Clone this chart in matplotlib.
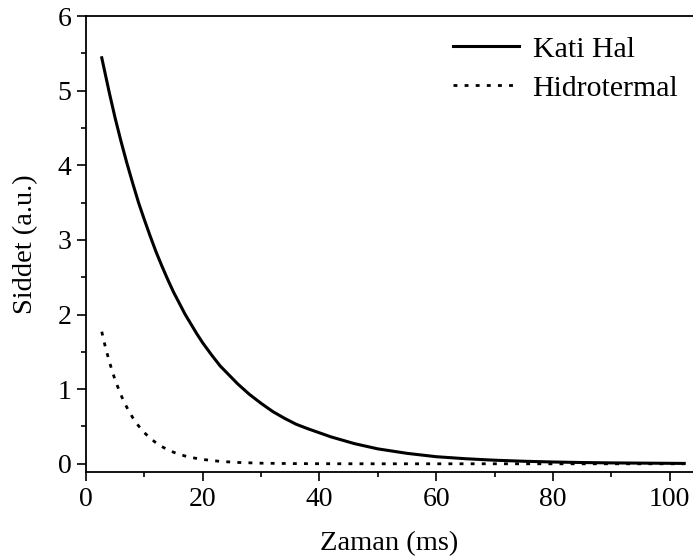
import matplotlib
import matplotlib.pyplot as plt
from matplotlib.ticker import MultipleLocator

matplotlib.use('Agg')

# decay curves, time in ms, intensity in a.u.
time_kati = [2.7, 4, 5, 6, 7, 8, 9, 10, 11, 12, 13, 14, 15, 16, 17, 18, 19,
             20, 21.5, 23, 24.5, 26, 28, 30, 32, 34, 36, 38, 42, 46, 50, 55,
             60, 65, 70, 75, 80, 85, 90, 95, 102.5]
signal_kati = [5.44, 4.97, 4.63, 4.32, 4.03, 3.76, 3.50, 3.27, 3.05, 2.84,
               2.65, 2.47, 2.30, 2.15, 2.00, 1.87, 1.74, 1.62, 1.46, 1.31,
               1.19, 1.07, 0.93, 0.81, 0.70, 0.61, 0.53, 0.47, 0.36, 0.27,
               0.20, 0.14, 0.095, 0.068, 0.048, 0.034, 0.024, 0.017, 0.012,
               0.009, 0.005]

time_hidro = [2.7, 3.3, 4, 4.5, 5, 5.5, 6, 6.5, 7, 8, 9, 10, 11, 12, 13, 14,
              15, 16, 17, 18, 20, 23, 26, 30, 35, 40, 50, 60, 70, 80, 90,
              102.5]
signal_hidro = [1.77, 1.57, 1.37, 1.24, 1.12, 1.02, 0.92, 0.834, 0.756,
                0.619, 0.508, 0.417, 0.342, 0.281, 0.230, 0.189, 0.155,
                0.127, 0.104, 0.085, 0.058, 0.032, 0.018, 0.008, 0.003,
                0.001, 0.0, 0.0, 0.0, 0.0, 0.0, 0.0]

labels = ['Kati Hal', 'Hidrotermal']

plt.rcParams['font.family'] = ['Liberation Serif', 'DejaVu Serif']
plt.rcParams['font.size'] = 20

fig = plt.figure(figsize=(6.93, 5.59), dpi=100)
ax = fig.add_axes([86 / 693, 1 - 472 / 559, 1 - 86 / 693, (472 - 16) / 559])

ax.plot(time_kati, signal_kati, c='k', lw=2.2, label=labels[0])
ax.plot(time_hidro, signal_hidro, c='k', lw=2.0, ls=(0, (1.4, 2.6)), label=labels[1])

ax.set_xlim(0, 104)
ax.set_ylim(-0.11, 6)
ax.xaxis.set_major_locator(MultipleLocator(20))
ax.xaxis.set_minor_locator(MultipleLocator(10))
ax.yaxis.set_major_locator(MultipleLocator(1))
ax.yaxis.set_minor_locator(MultipleLocator(0.5))

ax.spines['right'].set_visible(False)
for side in ['left', 'bottom', 'top']:
    ax.spines[side].set_linewidth(1.3)

ax.tick_params(which='major', direction='out', length=6.5, width=1.2, pad=4)
ax.tick_params(which='minor', direction='out', length=3.3, width=1.2)
ax.tick_params(which='both', top=False, right=False)

ax.set_xlabel('Zaman (ms)', labelpad=14, fontsize=20.5)
ax.set_ylabel('Siddet (a.u.)', labelpad=14, fontsize=20.5)

ax.legend(frameon=False, loc='upper right', bbox_to_anchor=(1.02, 1.015),
          handlelength=2.2, handletextpad=0.45, labelspacing=0.4, fontsize=21.5)

plt.savefig('out.png', dpi=100)
plt.close()
